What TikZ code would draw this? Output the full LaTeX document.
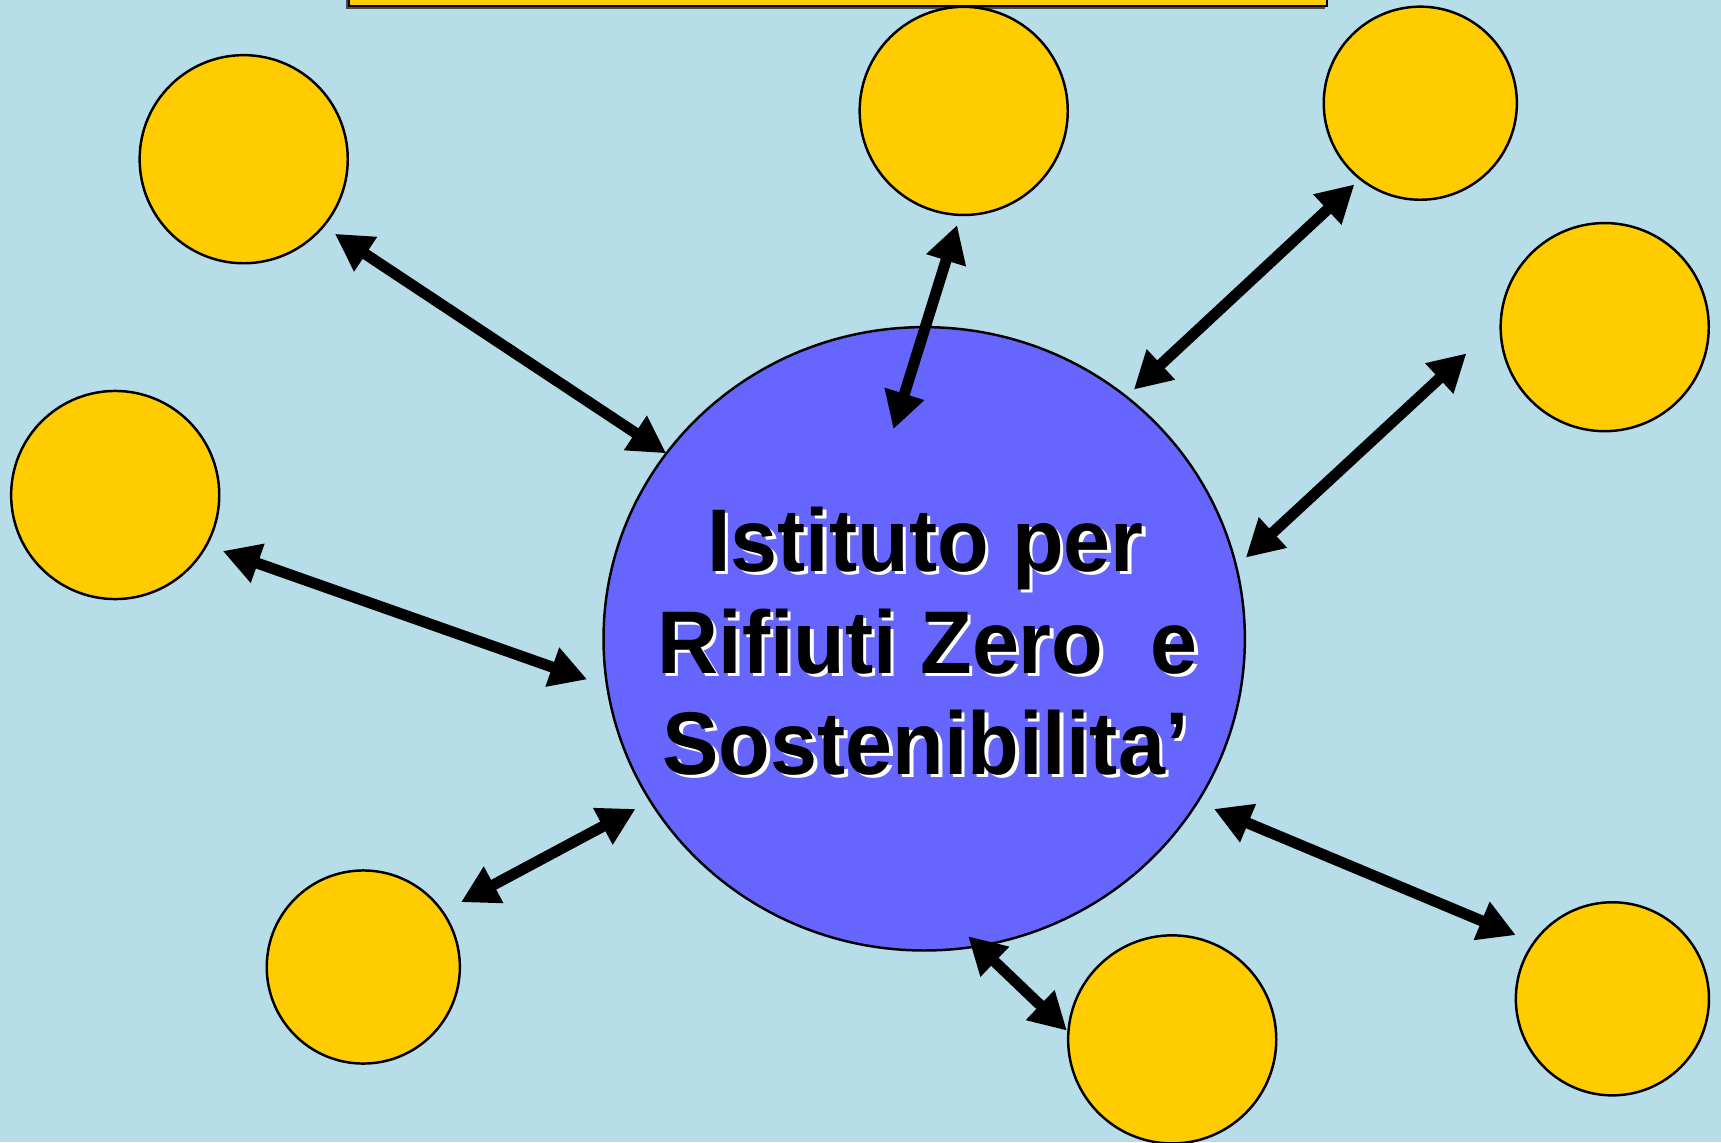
\documentclass[tikz,border=0pt]{standalone}
\usepackage{fontspec}
\setmainfont{Liberation Sans}
\usetikzlibrary{arrows.meta,shapes.geometric}
\definecolor{bgblue}{RGB}{183,221,232}
\definecolor{sunyellow}{RGB}{255,204,0}
\definecolor{hubblue}{RGB}{102,102,255}
\newcommand{\narrowtxt}[1]{\scalebox{0.95}[1]{#1}}
\tikzset{
  sat/.style={circle,draw=black,line width=0.7pt,fill=sunyellow,inner sep=0pt},
  hub/.style={ellipse,draw=black,line width=0.7pt,fill=hubblue,inner sep=0pt,minimum width=6.41cm,minimum height=6.23cm},
  link/.style={line width=0.11cm,draw=black,{Triangle[length=0.37cm,width=0.39cm]}-{Triangle[length=0.37cm,width=0.39cm]}},
  hubtext/.style={anchor=base,font=\bfseries\fontsize{25.3pt}{30pt}\selectfont,inner sep=0pt},
}
\begin{document}
\begin{tikzpicture}[x=0.01cm,y=-0.01cm]
\fill[bgblue] (0,0) rectangle (1721,1142);
\useasboundingbox (0,0) rectangle (1721,1142);
% top box (cut off)
\fill[black!70] (346,-20) rectangle (1325,9);
\node[draw=black,line width=0.7pt,fill=sunyellow,anchor=south west,minimum width=9.77cm,minimum height=0.4cm,inner sep=0pt] (topbox) at (348,7) {};
% satellites
\node[sat,minimum size=2.08cm] (s1) at (243.7,159.2) {};
\node[sat,minimum size=2.08cm] (s2) at (963.7,110.9) {};
\node[sat,minimum size=1.93cm] (s3) at (1420.3,103.2) {};
\node[sat,minimum size=2.08cm] (s4) at (1604.7,327.1) {};
\node[sat,minimum size=2.08cm] (s5) at (115.2,495) {};
\node[sat,minimum size=1.93cm] (s6) at (363.3,967) {};
\node[sat,minimum size=2.08cm] (s7) at (1172.2,1039.4) {};
\node[sat,minimum size=1.93cm] (s8) at (1612.4,998.8) {};
% hub
\node[hub] (hub) at (924.2,638.8) {};
% text with white shadow
\node[hubtext,white] (t1s) at (929,574.5) {\narrowtxt{Istituto per}};
\node[hubtext] (t1) at (925.5,571) {\narrowtxt{Istituto per}};
\node[hubtext,white] (t2s) at (931,676.5) {\narrowtxt{Rifiuti Zero~~e}};
\node[hubtext] (t2) at (927.5,673) {\narrowtxt{Rifiuti Zero~~e}};
\node[hubtext,white] (t3s) at (929,777.5) {\narrowtxt{Sostenibilita’}};
\node[hubtext] (t3) at (925.5,774) {\narrowtxt{Sostenibilita’}};
% arrow end points
\coordinate (a1) at (334.8,233.8); \coordinate (a2) at (666.2,453.3);
\coordinate (b1) at (957.1,225);   \coordinate (b2) at (893.4,429.2);
\coordinate (c1) at (1354.4,184.4);\coordinate (c2) at (1133.8,389.6);
\coordinate (d1) at (1466.4,353.4);\coordinate (d2) at (1245.8,557.6);
\coordinate (e1) at (222.8,551);   \coordinate (e2) at (587.2,679.4);
\coordinate (f1) at (461,902.2);   \coordinate (f2) at (635.5,808.9);
\coordinate (g1) at (968.1,936.2); \coordinate (g2) at (1066.9,1030.6);
\coordinate (h1) at (1213.9,808.9);\coordinate (h2) at (1515.8,935.1);
\draw[link] (a1) -- (a2);
\draw[link] (b1) -- (b2);
\draw[link] (c1) -- (c2);
\draw[link] (d1) -- (d2);
\draw[link] (e1) -- (e2);
\draw[link] (f1) -- (f2);
\draw[link] (g1) -- (g2);
\draw[link] (h1) -- (h2);
\end{tikzpicture}
\end{document}
